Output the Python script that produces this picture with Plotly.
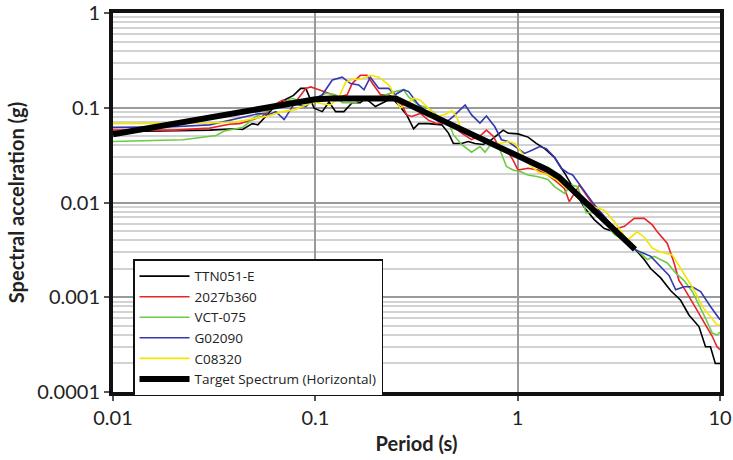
import plotly.graph_objects as go

# ---- data ----
ttn_T = [0.01, 0.02, 0.03, 0.0406, 0.0437, 0.0488, 0.052, 0.058, 0.0638, 0.07, 0.078, 0.0847, 0.0897,
         0.0986, 0.1082, 0.1168, 0.126, 0.1384, 0.152, 0.167, 0.177, 0.198, 0.218, 0.239, 0.258, 0.283,
         0.306, 0.324, 0.362, 0.422, 0.455, 0.481, 0.528, 0.570, 0.615, 0.676, 0.743, 0.848, 0.897,
         1.004, 1.125, 1.236, 1.36, 1.52, 1.705, 1.91, 2.14, 2.39, 2.68, 3.0, 3.37, 3.77, 4.22, 4.55,
         5.09, 5.71, 6.39, 7.02, 7.87, 8.48, 8.97, 9.48, 10]
ttn_Sa = [0.056, 0.057, 0.058, 0.060, 0.059, 0.068, 0.066, 0.085, 0.107, 0.12, 0.135, 0.16, 0.16,
          0.099, 0.091, 0.115, 0.091, 0.091, 0.113, 0.113, 0.126, 0.103, 0.115, 0.126, 0.107, 0.084,
          0.060, 0.068, 0.068, 0.066, 0.054, 0.042, 0.042, 0.044, 0.042, 0.041, 0.046, 0.058, 0.054,
          0.053, 0.049, 0.042, 0.037, 0.030, 0.0205, 0.0136, 0.0088, 0.0066, 0.0053, 0.0049, 0.0042,
          0.0033, 0.0025, 0.0020, 0.0016, 0.00117, 0.00093, 0.00065, 0.00049, 0.0003, 0.0003, 0.0002,
          0.0002]

red_T = [0.01, 0.02, 0.03, 0.0324, 0.0376, 0.0422, 0.0455, 0.0548, 0.0638, 0.0688, 0.080, 0.0897,
         0.0949, 0.1042, 0.1168, 0.131, 0.1437, 0.152, 0.167, 0.180, 0.194, 0.210, 0.230, 0.248, 0.268,
         0.283, 0.300, 0.330, 0.362, 0.398, 0.438, 0.472, 0.528, 0.592, 0.663, 0.701, 0.757, 0.817,
         0.897, 0.949, 1.004, 1.125, 1.26, 1.411, 1.55, 1.705, 1.80, 2.02, 2.35, 2.68, 3.0, 3.37, 3.77,
         4.22, 4.63, 4.90, 5.49, 5.93, 6.27, 6.64, 7.43, 8.32, 9.14, 9.67, 10]
red_Sa = [0.058, 0.058, 0.061, 0.063, 0.067, 0.068, 0.071, 0.081, 0.11, 0.12, 0.116, 0.16, 0.166,
          0.155, 0.142, 0.13, 0.137, 0.18, 0.22, 0.22, 0.174, 0.137, 0.137, 0.126, 0.107, 0.084,
          0.081, 0.087, 0.074, 0.068, 0.070, 0.066, 0.054, 0.046, 0.052, 0.058, 0.050, 0.037, 0.034,
          0.028, 0.022, 0.023, 0.022, 0.0195, 0.0167, 0.0140, 0.0102, 0.0153, 0.0095, 0.0071, 0.0052,
          0.0056, 0.0068, 0.0068, 0.0058, 0.0049, 0.0037, 0.0023, 0.0015, 0.00125, 0.00083, 0.00054,
          0.00039, 0.0003, 0.00028]

grn_T = [0.01, 0.0222, 0.0324, 0.0356, 0.0437, 0.0509, 0.057, 0.0688, 0.0757, 0.0897, 0.1004, 0.1125,
         0.126, 0.1358, 0.158, 0.174, 0.198, 0.222, 0.248, 0.273, 0.289, 0.324, 0.362, 0.406, 0.455,
         0.481, 0.528, 0.592, 0.651, 0.689, 0.743, 0.817, 0.880, 0.949, 1.042, 1.125, 1.26, 1.411,
         1.52, 1.705, 1.84, 1.98, 2.18, 2.44, 2.68, 3.0, 3.49, 3.91, 4.38, 4.72, 5.49, 6.04, 6.64,
         7.29, 7.87, 8.48, 9.14, 9.67, 10]
grn_Sa = [0.044, 0.046, 0.051, 0.057, 0.062, 0.081, 0.091, 0.109, 0.126, 0.116, 0.126, 0.142,
          0.137, 0.113, 0.113, 0.126, 0.126, 0.137, 0.148, 0.155, 0.13, 0.107, 0.099, 0.081, 0.071,
          0.052, 0.041, 0.034, 0.039, 0.034, 0.042, 0.036, 0.024, 0.022, 0.021, 0.0195, 0.0187,
          0.0175, 0.0147, 0.0125, 0.0153, 0.0147, 0.0078, 0.0078, 0.0063, 0.0046, 0.0038, 0.0031,
          0.0025, 0.0027, 0.0023, 0.0018, 0.0015, 0.00115, 0.00083, 0.0006, 0.00042, 0.0004, 0.00043]

blu_T = [0.01, 0.02, 0.03, 0.0406, 0.0528, 0.0592, 0.0638, 0.0701, 0.0786, 0.0897, 0.0967, 0.1082,
         0.1213, 0.1358, 0.1493, 0.164, 0.174, 0.187, 0.206, 0.230, 0.248, 0.273, 0.289, 0.324,
         0.362, 0.406, 0.446, 0.481, 0.550, 0.592, 0.651, 0.701, 0.771, 0.832, 0.897, 1.004, 1.083,
         1.19, 1.285, 1.385, 1.52, 1.64, 1.77, 1.87, 2.06, 2.39, 2.68, 3.0, 3.37, 3.77, 4.22, 4.55,
         5.09, 5.60, 6.04, 6.64, 7.29, 8.02, 8.97, 9.86, 10]
blu_Sa = [0.062, 0.063, 0.066, 0.077, 0.087, 0.085, 0.091, 0.075, 0.11, 0.103, 0.12, 0.137,
          0.196, 0.21, 0.18, 0.174, 0.155, 0.21, 0.16, 0.16, 0.137, 0.155, 0.148, 0.107, 0.087,
          0.072, 0.071, 0.081, 0.107, 0.084, 0.069, 0.082, 0.063, 0.046, 0.044, 0.037, 0.033, 0.036,
          0.039, 0.037, 0.030, 0.023, 0.0205, 0.0195, 0.0147, 0.0095, 0.0071, 0.0052, 0.0039, 0.0032,
          0.0029, 0.0027, 0.0021, 0.0017, 0.0012, 0.00129, 0.00129, 0.00115, 0.0008, 0.0006, 0.00058]

yel_T = [0.01, 0.02, 0.030, 0.0406, 0.0509, 0.057, 0.0688, 0.0786, 0.0897, 0.0986, 0.1082, 0.119,
         0.131, 0.1412, 0.152, 0.167, 0.187, 0.206, 0.222, 0.235, 0.248, 0.263, 0.283, 0.306, 0.330,
         0.362, 0.398, 0.438, 0.472, 0.499, 0.528, 0.592, 0.663, 0.729, 0.817, 0.897, 0.968, 1.042,
         1.147, 1.26, 1.411, 1.55, 1.705, 1.91, 2.18, 2.44, 2.68, 3.0, 3.37, 3.49, 3.9, 4.22, 4.63,
         5.09, 5.81, 6.15, 6.64, 7.43, 8.17, 8.97, 9.67, 10]
yel_Sa = [0.068, 0.068, 0.069, 0.071, 0.077, 0.081, 0.091, 0.095, 0.107, 0.116, 0.11, 0.107,
          0.13, 0.186, 0.2, 0.2, 0.22, 0.21, 0.186, 0.166, 0.126, 0.099, 0.11, 0.126, 0.12, 0.099,
          0.081, 0.085, 0.093, 0.081, 0.058, 0.052, 0.046, 0.042, 0.042, 0.044, 0.042, 0.034, 0.025,
          0.021, 0.0195, 0.0175, 0.0147, 0.0125, 0.0095, 0.0088, 0.0083, 0.0063, 0.0044, 0.0040,
          0.0049, 0.0043, 0.0033, 0.0030, 0.0028, 0.0023, 0.0018, 0.0012, 0.0008, 0.00063, 0.00051,
          0.00051]

tgt_T = [0.01, 0.02, 0.03, 0.04, 0.05, 0.064, 0.08, 0.1, 0.12, 0.25, 0.3, 0.4, 0.5, 0.6, 0.8, 1.0,
         1.2, 1.4, 1.6, 1.8, 2.0, 2.5, 3.0, 3.5, 3.8]
tgt_Sa = [0.0525, 0.0675, 0.078, 0.087, 0.094, 0.104, 0.115, 0.123, 0.125, 0.125, 0.104, 0.078,
          0.0625, 0.052, 0.039, 0.031, 0.026, 0.0222, 0.0185, 0.0145, 0.0117, 0.0075, 0.0052,
          0.0038, 0.0032]

series_names = ["TTN051-E", "2027b360", "VCT-075", "G02090", "C08320"]
series_colors = ["#000000", "#e8242a", "#6ccb45", "#3438ae", "#f2e500"]
x_ticks = [0.01, 0.1, 1, 10]
x_ticktext = ["0.01", "0.1", "1", "10"]
y_ticks = [0.0001, 0.001, 0.01, 0.1, 1]
y_ticktext = ["0.0001", "0.001", "0.01", "0.1", "1"]
y_minor = [m * d for d in [0.0001, 0.001, 0.01, 0.1] for m in range(2, 10)]

FONT = "Lato"
fig = go.Figure()
for (T, S), name, col in zip([(ttn_T, ttn_Sa), (red_T, red_Sa), (grn_T, grn_Sa), (blu_T, blu_Sa), (yel_T, yel_Sa)],
                             series_names, series_colors):
    fig.add_trace(go.Scatter(x=T, y=S, mode="lines", name=name,
                             line=dict(color=col, width=1.6)))
fig.add_trace(go.Scatter(x=tgt_T, y=tgt_Sa, mode="lines", name="Target Spectrum (Horizontal)",
                         line=dict(color="#000000", width=6)))

fig.update_layout(
    width=733, height=460,
    margin=dict(l=113, r=13, t=13, b=68),
    paper_bgcolor="white", plot_bgcolor="white",
    font=dict(family=FONT, color="#222222"),
    showlegend=True,
    legend=dict(x=0.033, y=0.35, xanchor="left", yanchor="top",
                bgcolor="white", bordercolor="#111111", borderwidth=1.5,
                font=dict(family="Open Sans", size=13.5, color="#222222"),
                tracegroupgap=0, itemwidth=50),
)
fig.update_xaxes(type="log", range=[-2, 1], tickvals=x_ticks, ticktext=x_ticktext, automargin=False,
                 ticklabeloverflow="allow",
                 showline=True, mirror=True, linecolor="#111111", linewidth=4,
                 ticks="outside", ticklen=5, tickcolor="#555555", tickwidth=1.5,
                 tickfont=dict(family=FONT, size=20, color="#222222"),
                 showgrid=True, gridcolor="#9a9a9a", gridwidth=1.5, zeroline=False,
                 title=dict(text="<b>Period (s)</b>", font=dict(family=FONT, size=20, color="#222222"),
                            standoff=10))
fig.update_yaxes(type="log", range=[-4, 0], tickvals=y_ticks, ticktext=y_ticktext, automargin=False,
                 ticklabeloverflow="allow",
                 showline=True, mirror=True, linecolor="#111111", linewidth=4,
                 ticks="outside", ticklen=5, tickcolor="#555555", tickwidth=1.5,
                 tickfont=dict(family=FONT, size=20, color="#222222"),
                 showgrid=True, gridcolor="#9a9a9a", gridwidth=1.5, zeroline=False,
                 minor=dict(tickmode="array", tickvals=y_minor, showgrid=True,
                            gridcolor="#d2d2d2", gridwidth=1.5, ticks=""),
                 title=dict(text="<b>Spectral accelration (g)</b>", font=dict(family=FONT, size=20, color="#222222"),
                            standoff=8))

fig.write_html("out.html")
